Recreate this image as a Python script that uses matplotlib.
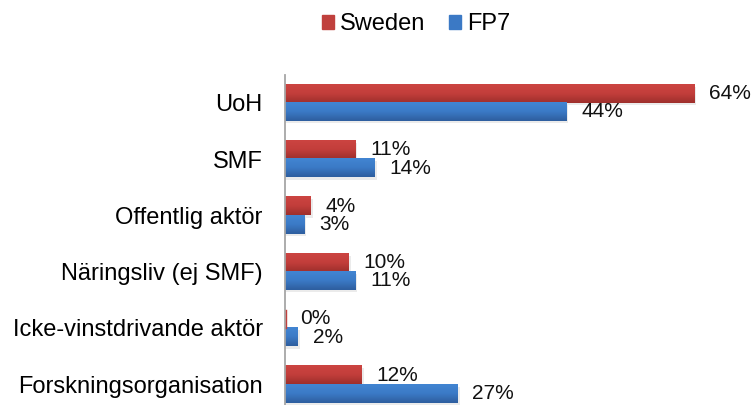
import numpy as np
import matplotlib
matplotlib.use("Agg")
import matplotlib.pyplot as plt
from matplotlib.colors import LinearSegmentedColormap

# data
categories = ["UoH", "SMF", "Offentlig aktör", "Näringsliv (ej SMF)",
              "Icke-vinstdrivande aktör", "Forskningsorganisation"]
sweden = [64, 11, 4, 10, 0, 12]
fp7 = [44, 14, 3, 11, 2, 27]
series_names = ["Sweden", "FP7"]

plt.rcParams["font.family"] = ["Liberation Sans", "DejaVu Sans"]
FS = 17
FS_VAL = 15

fig = plt.figure(figsize=(7.54, 4.05), dpi=100)
ax = fig.add_axes([0.378, -0.0185, 0.594, 0.8345])

y = np.arange(len(categories))
h = 0.327
red_bars = ax.barh(y - h / 2, sweden, height=h, color="#C0403D", label=series_names[0], zorder=2)
blue_bars = ax.barh(y + h / 2, fp7, height=h, color="#3B79C5", label=series_names[1], zorder=2)

# gradient fill + soft shadow for an Excel-like look
grads = {
    "red": LinearSegmentedColormap.from_list("r", ["#CC4441", "#C23E3B", "#9E2F2C"]),
    "blue": LinearSegmentedColormap.from_list("b", ["#4285D2", "#3B7AC6", "#2E5E9E"]),
}
grad = np.linspace(0, 1, 64).reshape(-1, 1)
for bars, key in [(red_bars, "red"), (blue_bars, "blue")]:
    for p in bars:
        x0, y0, w, hh = p.get_x(), p.get_y(), p.get_width(), p.get_height()
        if w <= 0:
            continue
        p.set_alpha(0)
        ax.imshow(grad, cmap=grads[key], aspect="auto", zorder=2.5,
                  extent=(x0, x0 + w, y0 + hh, y0), interpolation="bicubic")
        ax.add_patch(plt.Rectangle((x0, y0 + 0.04), w + 0.3, hh, color="#D8D8D8",
                                   alpha=0.5, zorder=1.5, lw=0))

# zero-width bar for Sweden at 0% shows as thin sliver
for p, v in zip(red_bars, sweden):
    if v == 0:
        ax.plot([0.15, 0.15], [p.get_y(), p.get_y() + p.get_height()], color="#C0403D", lw=1, zorder=3)

for bars, vals in [(red_bars, sweden), (blue_bars, fp7)]:
    for p, v in zip(bars, vals):
        ax.text(v + 2.3, p.get_y() + p.get_height() / 2, f"{v}%", va="center", ha="left",
                fontsize=FS_VAL, color="#111111", zorder=4)

ax.set_xlim(0, 70)
ax.set_ylim(len(categories) - 0.5, -0.5)
ax.set_yticks(y)
ax.set_yticklabels(categories, fontsize=FS)
ax.tick_params(axis="y", length=0, pad=16)
ax.set_xticks([])
for s in ["top", "right", "bottom"]:
    ax.spines[s].set_visible(False)
ax.spines["left"].set_color("#A6A6A6")
ax.spines["left"].set_linewidth(1.3)
ax.set_facecolor("none")

handles = [plt.Rectangle((0, 0), 1, 1, color="#C0403D"), plt.Rectangle((0, 0), 1, 1, color="#3B79C5")]
fig.legend(handles, series_names, loc="center", bbox_to_anchor=(0.552, 0.94), ncol=2,
           frameon=False, fontsize=FS, handlelength=0.5, handleheight=0.5,
           handletextpad=0.25, columnspacing=1.0)

fig.savefig("out.png", dpi=100)
